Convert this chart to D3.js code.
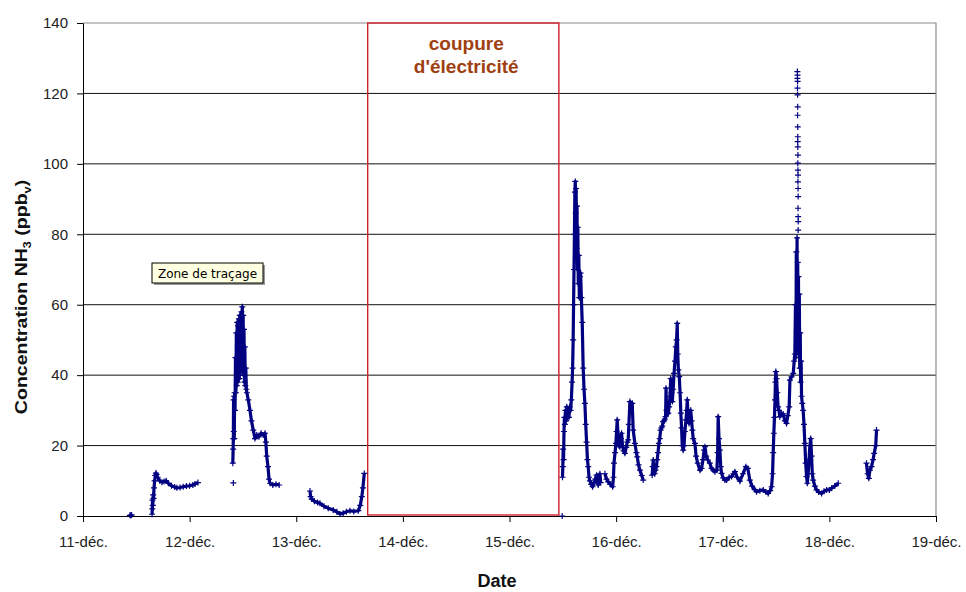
<!DOCTYPE html>
<html>
<head>
<meta charset="utf-8">
<script src="https://cdn.jsdelivr.net/npm/d3@7"></script>
<style>
  body { margin: 0; background: #fff; }
</style>
</head>
<body>
<div id="chart"></div>
<script>
// axis ticks (x in days of December)
const dayTicks = [11, 12, 13, 14, 15, 16, 17, 18, 19];
const dayLabels = ["11-déc.", "12-déc.", "13-déc.", "14-déc.", "15-déc.", "16-déc.", "17-déc.", "18-déc.", "19-déc."];
const yTicks = [0, 20, 40, 60, 80, 100, 120, 140];

// power cut window
const outage = [13.670, 15.463];

// NH3 (ppbv) readings as [day, value], one array per continuous run
const earlyZeros = [[11.440, 0.2], [11.448, 0.2], [11.456, 0.3]];
const lonePoints = [[12.410, 9.4], [15.494, 0]];

const run1 = [[11.648, 0.5], [11.650, 2], [11.652, 4.5], [11.655, 3], [11.658, 6], [11.662, 5], [11.666, 8],
  [11.672, 10], [11.678, 11.5], [11.684, 12.2], [11.690, 11.8], [11.700, 11], [11.720, 10], [11.740, 9.6],
  [11.760, 9.8], [11.780, 10], [11.800, 9.3], [11.830, 8.6], [11.860, 8.2], [11.880, 8.0], [11.910, 8.1],
  [11.940, 8.3], [11.970, 8.5], [12.000, 8.6], [12.030, 8.8], [12.050, 9.1], [12.078, 9.5]];

const run2 = [[12.405, 15], [12.408, 19], [12.410, 22], [12.412, 33], [12.414, 24], [12.416, 34], [12.419, 22],
  [12.422, 35], [12.426, 30], [12.430, 45], [12.434, 35], [12.438, 52], [12.442, 37], [12.446, 55], [12.450, 38],
  [12.454, 54], [12.458, 40], [12.462, 56], [12.466, 39], [12.470, 57], [12.474, 42], [12.478, 56], [12.482, 41],
  [12.486, 58], [12.490, 44], [12.494, 59.4], [12.498, 42], [12.502, 57], [12.506, 40], [12.510, 53], [12.514, 38],
  [12.518, 48], [12.522, 37], [12.527, 42], [12.532, 36], [12.537, 35], [12.550, 33],
  [12.566, 30], [12.580, 27], [12.597, 24.4], [12.613, 22], [12.630, 23], [12.650, 22.5], [12.670, 23.5],
  [12.690, 23], [12.707, 23.5], [12.715, 21], [12.723, 17], [12.735, 14], [12.745, 10.5], [12.754, 9.3],
  [12.780, 8.8], [12.810, 9], [12.840, 8.8]];

const run3 = [[13.129, 7.1], [13.135, 5.5], [13.145, 4.8], [13.170, 4.2], [13.200, 3.8], [13.222, 3.6],
  [13.260, 2.8], [13.300, 2.2], [13.347, 1.7], [13.380, 1.2], [13.410, 0.6], [13.440, 0.8], [13.470, 1.2],
  [13.504, 1.5], [13.540, 1.3], [13.582, 1.5], [13.600, 3], [13.615, 5.5], [13.625, 8], [13.638, 12.1]];

const run4 = [[15.497, 11], [15.500, 14], [15.503, 19], [15.507, 16], [15.511, 24], [15.515, 28], [15.519, 26],
  [15.525, 30], [15.530, 27], [15.537, 31], [15.543, 28], [15.550, 30], [15.557, 28], [15.565, 31], [15.573, 30],
  [15.580, 33], [15.587, 38], [15.592, 42], [15.597, 50], [15.601, 60], [15.605, 70], [15.609, 80], [15.613, 92],
  [15.617, 95], [15.621, 86], [15.625, 93], [15.629, 76], [15.633, 88], [15.637, 70], [15.641, 82], [15.645, 66],
  [15.650, 74], [15.655, 62], [15.660, 68], [15.667, 69], [15.674, 62], [15.682, 55], [15.691, 42], [15.699, 36],
  [15.707, 32], [15.715, 26], [15.723, 21], [15.731, 16], [15.738, 14], [15.746, 11], [15.754, 10], [15.766, 9],
  [15.779, 8.3], [15.795, 9.5], [15.805, 10.5], [15.817, 11.6], [15.825, 9.5], [15.832, 8.8], [15.840, 10],
  [15.848, 12], [15.855, 9.5]];

const run5 = [[15.895, 12], [15.910, 10.5], [15.926, 9.7], [15.945, 9], [15.967, 8.3], [15.975, 11], [15.980, 15],
  [15.990, 18], [15.998, 20.6], [16.004, 24], [16.010, 27.3], [16.018, 23], [16.025, 20], [16.035, 19.7],
  [16.043, 22], [16.051, 23.5], [16.060, 20], [16.070, 18.5], [16.082, 17.8], [16.095, 19.5], [16.105, 21],
  [16.113, 21.6], [16.120, 26], [16.129, 32.5], [16.140, 31], [16.151, 32], [16.160, 24.4], [16.176, 20.6],
  [16.190, 18], [16.198, 16.8], [16.210, 14.5], [16.223, 13], [16.240, 11.5], [16.254, 10.2]];

const run6 = [[16.338, 11.6], [16.343, 14], [16.348, 15.9], [16.355, 13], [16.362, 12], [16.370, 13], [16.378, 14],
  [16.385, 16], [16.393, 18], [16.401, 20.6], [16.409, 22], [16.417, 24.4], [16.425, 25], [16.433, 25.5],
  [16.441, 26.8], [16.450, 27], [16.457, 27.5], [16.464, 28.2], [16.468, 36.3], [16.473, 30], [16.481, 29],
  [16.489, 29.2], [16.497, 31], [16.505, 34], [16.512, 39], [16.520, 35], [16.527, 32.5], [16.535, 36],
  [16.543, 40.5], [16.552, 44], [16.560, 48], [16.567, 50], [16.573, 54.7], [16.578, 46], [16.584, 41.5],
  [16.592, 39.6], [16.600, 35], [16.607, 29.2], [16.614, 25], [16.620, 20], [16.629, 18.7], [16.637, 20],
  [16.645, 24], [16.655, 27.3], [16.662, 30], [16.667, 33], [16.676, 28], [16.684, 26.3], [16.692, 28],
  [16.700, 30], [16.708, 27], [16.715, 24.4], [16.723, 22], [16.739, 20.6], [16.750, 17], [16.765, 15],
  [16.786, 13], [16.801, 13.5], [16.815, 16], [16.825, 18.7], [16.833, 19.7], [16.845, 17], [16.860, 15.9],
  [16.879, 15], [16.895, 13.5], [16.911, 13], [16.926, 12.6], [16.945, 13], [16.952, 18], [16.957, 28.2],
  [16.965, 22], [16.973, 18.7], [16.981, 14], [16.989, 12.1], [17.005, 10.8], [17.020, 10.2], [17.036, 10.2],
  [17.060, 11], [17.083, 11.2], [17.100, 12], [17.114, 12.6], [17.135, 11], [17.161, 9.9], [17.190, 12],
  [17.217, 14], [17.235, 13.5], [17.254, 10.2], [17.275, 8.5], [17.300, 7.5], [17.317, 6.9], [17.348, 7.2],
  [17.380, 7.4], [17.405, 6.8], [17.426, 6.4], [17.445, 7.2], [17.458, 8.3], [17.467, 12], [17.473, 18],
  [17.479, 23.5], [17.485, 28], [17.490, 33], [17.494, 38], [17.498, 41], [17.504, 39], [17.512, 35],
  [17.519, 31], [17.527, 30], [17.535, 28.2], [17.550, 29], [17.566, 29], [17.582, 27], [17.598, 26.3],
  [17.610, 28.5], [17.623, 31], [17.630, 38.6], [17.645, 39.5], [17.661, 40.5], [17.670, 44], [17.676, 46],
  [17.682, 60], [17.686, 45], [17.690, 75], [17.694, 52], [17.697, 79], [17.700, 50], [17.703, 72], [17.706, 48],
  [17.710, 68], [17.714, 46], [17.718, 63], [17.722, 42], [17.727, 52], [17.730, 38], [17.735, 44],
  [17.739, 34], [17.746, 32], [17.754, 30], [17.762, 26], [17.770, 20.6], [17.778, 15], [17.786, 11.2],
  [17.793, 9.3], [17.801, 12], [17.809, 16], [17.817, 20], [17.825, 22], [17.833, 17], [17.840, 12],
  [17.848, 10.2], [17.864, 8.5], [17.880, 7.4], [17.900, 6.8], [17.927, 6.4], [17.950, 7], [17.974, 7.4],
  [18.000, 7.4], [18.021, 7.9], [18.050, 8.5], [18.083, 9.3]];

const run7 = [[18.348, 15], [18.358, 12], [18.370, 10.7], [18.380, 13], [18.395, 14], [18.410, 16],
  [18.420, 17.8], [18.435, 20], [18.442, 24.4]];

// isolated readings above the 17-déc. peak
const peakDots = [[17.700, 126.2], [17.701, 125.2], [17.700, 124.3], [17.702, 123.4], [17.701, 121.5],
  [17.702, 119.6], [17.703, 116.2], [17.702, 113.8], [17.703, 110.5], [17.704, 107.7], [17.703, 106.3],
  [17.704, 104.8], [17.705, 102.5], [17.704, 100.2], [17.705, 98.2], [17.706, 96.8], [17.705, 94.9],
  [17.706, 93], [17.707, 90.7], [17.706, 87.4], [17.707, 85], [17.708, 83.6], [17.707, 81.2]];

const runs = [run1, run2, run3, run4, run5, run6, run7];

const width = 966;
const height = 592;
const margin = { top: 23, right: 30, bottom: 76, left: 83 };
const navy = '#000080';

const svg = d3.select('#chart')
  .append('svg')
  .attr('width', width)
  .attr('height', height)
  .style('font-family', '"Liberation Sans", Arial, sans-serif');

const x = d3.scaleLinear()
  .domain([11, 19])
  .range([margin.left, width - margin.right]);

const y = d3.scaleLinear()
  .domain([0, 140])
  .range([height - margin.bottom, margin.top]);

// horizontal grid lines
svg.append('g')
  .selectAll('line')
  .data(yTicks.filter(t => t > 0 && t < 140))
  .join('line')
  .attr('x1', x(11))
  .attr('x2', x(19))
  .attr('y1', d => y(d))
  .attr('y2', d => y(d))
  .attr('stroke', '#111')
  .attr('stroke-width', 1);

// top / right frame in grey
svg.append('path')
  .attr('d', `M${x(11)},${y(140)}H${x(19)}V${y(0)}`)
  .attr('fill', 'none')
  .attr('stroke', '#8a8a8a')
  .attr('stroke-width', 1.2);

// y axis
const yAxis = svg.append('g')
  .attr('transform', `translate(${x(11)},0)`)
  .call(d3.axisLeft(y).tickValues(yTicks).tickSize(6).tickSizeOuter(0).tickPadding(9));
yAxis.select('.domain').attr('stroke', '#000');
yAxis.selectAll('.tick line').attr('stroke', '#000');
yAxis.selectAll('.tick text')
  .attr('font-size', '15px')
  .attr('fill', '#222')
  .style('font-family', '"Liberation Sans", Arial, sans-serif');

// x axis
const xAxis = svg.append('g')
  .attr('transform', `translate(0,${y(0)})`)
  .call(d3.axisBottom(x).tickValues(dayTicks).tickSize(6).tickSizeOuter(0).tickPadding(14)
    .tickFormat((d, i) => dayLabels[i]));
xAxis.select('.domain').attr('stroke', '#000');
xAxis.selectAll('.tick line').attr('stroke', '#000');
xAxis.selectAll('.tick text')
  .attr('font-size', '15px')
  .attr('fill', '#222')
  .style('font-family', '"Liberation Sans", Arial, sans-serif');

// power cut box, over the axis line
svg.append('rect')
  .attr('x', x(outage[0]))
  .attr('y', y(140))
  .attr('width', x(outage[1]) - x(outage[0]))
  .attr('height', y(0) - y(140) - 1)
  .attr('fill', 'none')
  .attr('stroke', '#d0202a')
  .attr('stroke-width', 1.4);

const midX = (x(outage[0]) + x(outage[1])) / 2 + 3;
svg.append('text')
  .attr('x', midX)
  .attr('y', 50)
  .attr('text-anchor', 'middle')
  .attr('font-size', '19px')
  .attr('font-weight', 'bold')
  .attr('fill', '#a04010')
  .text('coupure');
svg.append('text')
  .attr('x', midX)
  .attr('y', 73)
  .attr('text-anchor', 'middle')
  .attr('font-size', '19px')
  .attr('font-weight', 'bold')
  .attr('fill', '#a04010')
  .text("d'électricité");

// series
const line = d3.line()
  .x(d => x(d[0]))
  .y(d => y(d[1]));

const plot = svg.append('g');

plot.selectAll('path.run')
  .data(runs)
  .join('path')
  .attr('class', 'run')
  .attr('d', line)
  .attr('fill', 'none')
  .attr('stroke', navy)
  .attr('stroke-width', 3.2)
  .attr('stroke-linejoin', 'round');

const allPoints = runs.flat().concat(earlyZeros, lonePoints, peakDots);
plot.selectAll('path.mark')
  .data(allPoints)
  .join('path')
  .attr('class', 'mark')
  .attr('transform', d => `translate(${x(d[0])},${y(d[1])})`)
  .attr('d', 'M-3,0H3M0,-3V3')
  .attr('stroke', navy)
  .attr('stroke-width', 1.2);

// "Zone de traçage" tooltip
const tip = svg.append('g').attr('transform', 'translate(152,263)');
tip.append('rect')
  .attr('x', 2).attr('y', 2)
  .attr('width', 111).attr('height', 20)
  .attr('fill', '#9a9a9a');
tip.append('rect')
  .attr('width', 111).attr('height', 20)
  .attr('fill', '#ffffe1')
  .attr('stroke', '#000')
  .attr('stroke-width', 1);
tip.append('text')
  .attr('x', 55.5)
  .attr('y', 15)
  .attr('text-anchor', 'middle')
  .attr('font-size', '12px')
  .style('font-family', '"DejaVu Sans", sans-serif')
  .attr('fill', '#000')
  .text('Zone de traçage');

// axis titles
const yTitle = svg.append('text')
  .attr('transform', 'translate(27,297) rotate(-90) scale(1.15,1)')
  .attr('text-anchor', 'middle')
  .attr('font-size', '17px')
  .attr('font-weight', 'bold')
  .attr('fill', '#111');
yTitle.append('tspan').text('Concentration NH');
yTitle.append('tspan').attr('font-size', '11px').attr('dy', 4).text('3');
yTitle.append('tspan').attr('dy', -4).text(' (ppb');
yTitle.append('tspan').attr('font-size', '11px').attr('dy', 4).text('v');
yTitle.append('tspan').attr('dy', -4).text(')');

svg.append('text')
  .attr('x', 497)
  .attr('y', 587)
  .attr('text-anchor', 'middle')
  .attr('font-size', '18px')
  .attr('font-weight', 'bold')
  .attr('fill', '#111')
  .text('Date');
</script>
</body>
</html>
